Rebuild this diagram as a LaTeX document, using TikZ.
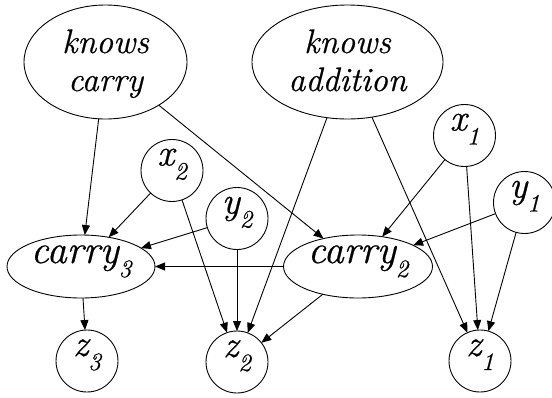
\documentclass[tikz,border=0pt]{standalone}
\usepackage{fontspec}
\setmainfont{Latin Modern Roman}[ItalicFeatures={FakeBold=0.6}]
\usetikzlibrary{shapes.geometric,arrows.meta}

% lowered, smaller index digit after a variable name
\newcommand\lowsub[1]{\raisebox{-14pt}{\fontsize{25}{25}\selectfont #1}}
% two centred lines whose first baseline is the box baseline
\newcommand\twolines[2]{\vtop{\baselineskip=38pt
  \hbox to 0pt{\hss #1\hss}\hbox to 0pt{\hss #2\hss}}}

\tikzset{
  every node/.style={line width=0.9pt, inner sep=0pt, outer sep=0pt},
  bigoval/.style={draw, ellipse, minimum height=114pt,
    font=\itshape\fontsize{34}{38}\selectfont,
    text height=10pt, text depth=28pt},
  carryoval/.style={draw, ellipse, minimum width=148pt, minimum height=63pt,
    font=\itshape\fontsize{40}{42}\selectfont,
    text height=12pt, text depth=19pt},
  var/.style={draw, circle, minimum size=62pt,
    font=\itshape\fontsize{38}{40}\selectfont,
    text height=10pt, text depth=20pt},
  arr/.style={line width=0.9pt, -{Triangle[length=10pt,width=8pt]}}
}

\begin{document}
\begin{tikzpicture}[x=1pt,y=-1pt]
\useasboundingbox (0,0) rectangle (552,397);

% top-level knowledge nodes
\node[bigoval, minimum width=163pt] (kc) at (105.5,62) {\twolines{knows}{carry}};
\node[bigoval, minimum width=191pt] (ka) at (347.5,62) {\twolines{knows}{addition}};

% input digits
\node[var] (x1) at (464.5,135.5) {x\lowsub{1}};
\node[var] (y1) at (524.5,202.5) {y\lowsub{1}};
\node[var] (x2) at (172,170.5) {x\lowsub{2}};
\node[var] (y2) at (237,218.5) {y\lowsub{2}};

% carries
\node[carryoval] (c3) at (81,266.5) {carry\lowsub{3}};
\node[carryoval, minimum width=149pt] (c2) at (358,266.5) {carry\lowsub{2}};

% output digits
\node[var] (z3) at (87,361) {z\lowsub{3}};
\node[var] (z2) at (237,362) {z\lowsub{2}};
\node[var] (z1) at (480,361) {z\lowsub{1}};

% dependencies
\draw[arr] (kc) -- (c3);
\draw[arr] (kc) -- (c2);
\draw[arr] (ka) -- (z2);
\draw[arr] (ka) -- (z1);
\draw[arr] (x2) -- (c3);
\draw[arr] (x2) -- (z2);
\draw[arr] (y2) -- (c3);
\draw[arr] (y2) -- (z2);
\draw[arr] (x1) -- (c2);
\draw[arr] (x1) -- (z1);
\draw[arr] (y1) -- (c2);
\draw[arr] (y1) -- (z1);
\draw[arr] (c2) -- (c3);
\draw[arr] (c2) -- (z2);
\draw[arr] (c3) -- (z3);
\end{tikzpicture}
\end{document}
